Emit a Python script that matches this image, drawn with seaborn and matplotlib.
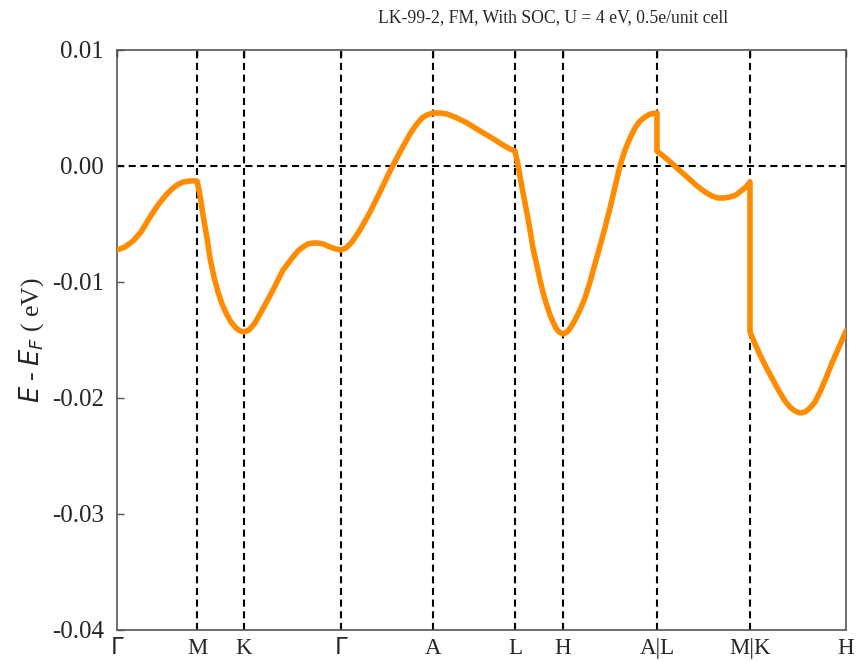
import matplotlib
matplotlib.use("Agg")
import matplotlib.pyplot as plt
import seaborn as sns
import pandas as pd

# k-path coordinates (arbitrary units) and band energies (eV, relative to E_F)
k_GM = [0.00, 0.08, 0.16, 0.24, 0.33, 0.41, 0.49, 0.55, 0.60, 0.66, 0.73, 0.80]
e_GM = [-0.00724, -0.00698, -0.00647, -0.00569, -0.00440, -0.00336, -0.00250, -0.00198, -0.00164, -0.00138, -0.00129, -0.00129]

k_MK = [0.80, 0.83, 0.86, 0.90, 0.93, 0.97, 1.01, 1.05, 1.10, 1.14, 1.19, 1.23, 1.27]
e_MK = [-0.00129, -0.00250, -0.00422, -0.00621, -0.00793, -0.00957, -0.01086, -0.01190, -0.01284, -0.01345, -0.01397, -0.01422, -0.01431]

k_KG = [1.27, 1.32, 1.38, 1.43, 1.48, 1.56, 1.66, 1.76, 1.81, 1.86, 1.91, 1.96, 2.01, 2.06, 2.13, 2.19, 2.24]
e_KG = [-0.01431, -0.01414, -0.01353, -0.01276, -0.01198, -0.01069, -0.00897, -0.00784, -0.00733, -0.00698,
        -0.00672, -0.00664, -0.00664, -0.00672, -0.00698, -0.00716, -0.00724]

k_GA = [2.24, 2.29, 2.35, 2.43, 2.53, 2.63, 2.73, 2.83, 2.93, 2.99, 3.05, 3.10, 3.16]
e_GA = [-0.00724, -0.00707, -0.00655, -0.00552, -0.00397, -0.00224, -0.00043, 0.00121, 0.00276, 0.00353, 0.00414, 0.00440, 0.00457]

k_AL = [3.16, 3.23, 3.30, 3.38, 3.50, 3.63, 3.75, 3.86, 3.93, 3.98]
e_AL = [0.00457, 0.00457, 0.00448, 0.00422, 0.00371, 0.00302, 0.00241, 0.00181, 0.00147, 0.00129]

k_LH = [3.98, 4.01, 4.04, 4.07, 4.10, 4.13, 4.16, 4.20, 4.23, 4.27, 4.30, 4.33, 4.36, 4.39, 4.42, 4.46]
e_LH = [0.00129, 0.00009, -0.00138, -0.00276, -0.00405, -0.00552, -0.00707, -0.00862, -0.00983, -0.01121,
        -0.01207, -0.01284, -0.01345, -0.01397, -0.01431, -0.01448]

k_HA = [4.46, 4.50, 4.54, 4.58, 4.63, 4.68, 4.73, 4.78, 4.83, 4.88, 4.93, 4.98, 5.03, 5.08, 5.13, 5.18, 5.23, 5.28, 5.33, 5.40]
e_HA = [-0.01448, -0.01431, -0.01388, -0.01328, -0.01241, -0.01138, -0.01000, -0.00845, -0.00690, -0.00534,
        -0.00362, -0.00181, 0.00000, 0.00138, 0.00241, 0.00328, 0.00388, 0.00422, 0.00448, 0.00457]

k_LM = [5.40, 5.50, 5.60, 5.70, 5.80, 5.88, 5.95, 6.01, 6.07, 6.13, 6.19, 6.24, 6.29, 6.33]
e_LM = [0.00129, 0.00060, -0.00017, -0.00095, -0.00172, -0.00224, -0.00259, -0.00276, -0.00276, -0.00267,
        -0.00250, -0.00216, -0.00181, -0.00138]

k_KH = [6.33, 6.38, 6.43, 6.49, 6.56, 6.62, 6.68, 6.73, 6.78, 6.83, 6.88, 6.93, 6.98, 7.03, 7.09, 7.15, 7.22, 7.29]
e_KH = [-0.01431, -0.01534, -0.01629, -0.01733, -0.01845, -0.01940, -0.02026, -0.02078, -0.02112, -0.02129,
        -0.02121, -0.02086, -0.02034, -0.01948, -0.01828, -0.01698, -0.01560, -0.01422]

tick_pos = [0.00, 0.80, 1.27, 2.24, 3.16, 3.98, 4.46, 5.40, 6.33, 7.29]
tick_labels = [r"$\Gamma$", "M", "K", r"$\Gamma$", "A", "L", "H", "A|L", "M|K", "H"]
yticks = [0.01, 0.00, -0.01, -0.02, -0.03, -0.04]
ytick_labels = ["0.01", "0.00", "-0.01", "-0.02", "-0.03", "-0.04"]

segments = [(k_GM, e_GM), (k_MK, e_MK), (k_KG, e_KG), (k_GA, e_GA), (k_AL, e_AL),
            (k_LH, e_LH), (k_HA, e_HA), (k_LM, e_LM), (k_KH, e_KH)]
ks, es = [], []
for kk, ee in segments:
    ks.extend(kk)
    es.extend(ee)
df = pd.DataFrame({"k": ks, "E": es})

sns.set_theme(style="white")
plt.rcParams["font.family"] = ["Liberation Serif", "DejaVu Serif"]
plt.rcParams["mathtext.fontset"] = "dejavusans"

fig = plt.figure(figsize=(8.59, 6.62), dpi=100)
ax = fig.add_axes([117 / 859, 1 - 630 / 662, (846 - 117) / 859, (630 - 50) / 662])

sns.lineplot(data=df, x="k", y="E", sort=False, estimator=None, ax=ax,
             color="#FF8C00", linewidth=4, zorder=3,
             solid_joinstyle="round", solid_capstyle="round")

dash = (0, (3.4, 2.2))
for p in tick_pos[1:-1]:
    ax.axvline(p, color="black", linestyle=dash, linewidth=1.5, zorder=2)
ax.axhline(0, color="black", linestyle=dash, linewidth=1.5, zorder=2)

ax.set_xlim(tick_pos[0], tick_pos[-1])
ax.set_ylim(-0.04, 0.01)
ax.set_xticks(tick_pos)
ax.set_xticklabels(tick_labels, fontsize=16.5)
ax.set_yticks(yticks)
ax.set_yticklabels(ytick_labels, fontsize=18)
ax.tick_params(axis="x", direction="in", top=True, bottom=False, labelbottom=True,
               length=5, width=1, color="black", pad=6)
ax.tick_params(axis="y", direction="in", left=True, length=5, width=1, color="#555555", pad=9.5)
ax.set_xlabel("")
ax.set_ylabel(r"$E$ - $E_F$ ( eV)", fontsize=18.5, labelpad=4)
for s in ax.spines.values():
    s.set_color("#555555")
    s.set_linewidth(1.2)

fig.text(553 / 859, 1 - 18 / 662, "LK-99-2, FM, With SOC, U = 4 eV, 0.5e/unit cell",
         ha="center", va="center", fontsize=12.7)

fig.savefig("out.png", dpi=100)
